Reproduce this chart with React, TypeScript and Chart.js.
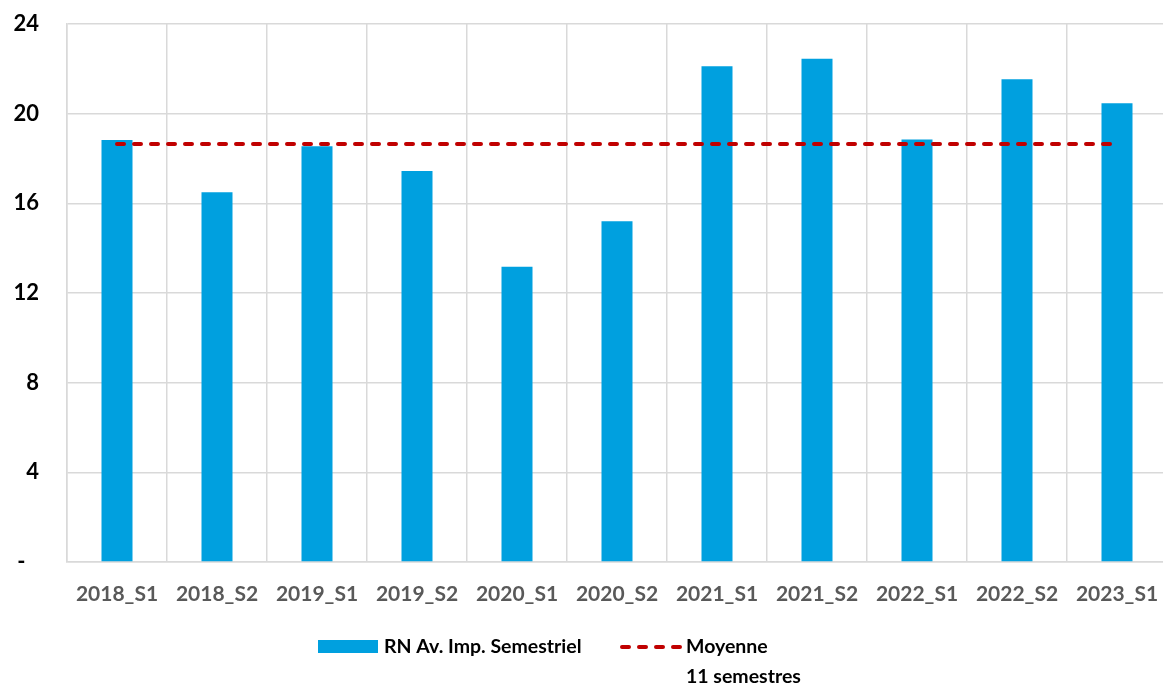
import React, { useEffect, useRef } from "react";
import { Chart, registerables } from "chart.js";

Chart.register(...registerables);

const categories = [
  "2018_S1", "2018_S2", "2019_S1", "2019_S2", "2020_S1", "2020_S2",
  "2021_S1", "2021_S2", "2022_S1", "2022_S2", "2023_S1",
];
const rnValues = [18.82, 16.5, 18.55, 17.44, 13.17, 15.2, 22.12, 22.45, 18.85, 21.54, 20.47];
const meanValues = [18.65, 18.65, 18.65, 18.65, 18.65, 18.65, 18.65, 18.65, 18.65, 18.65, 18.65];
const barLabel = "RN Av. Imp. Semestriel";
const meanLabel = ["Moyenne", "11 semestres"];
const yMin = 0;
const yMax = 24;
const yStep = 4;
const zeroTickLabel = "-  \u2009";

const FONT = "Lato, 'Open Sans', sans-serif";
const BAR_COLOR = "#00A0DF";
const RED = "#C00000";
const GRID = "#D9D9D9";

const legendPlugin = {
  id: "customLegend",
  afterDraw(chart: any) {
    const ctx = chart.ctx as CanvasRenderingContext2D;
    const ds0 = chart.data.datasets[0];
    const ds1 = chart.data.datasets[1];
    const y = 647;
    ctx.save();
    ctx.font = `bold 19.5px ${FONT}`;
    ctx.textBaseline = "middle";
    ctx.textAlign = "left";
    // bar sample
    ctx.fillStyle = ds0.backgroundColor;
    ctx.fillRect(318, 640, 60, 13);
    ctx.fillStyle = "#000";
    ctx.fillText(ds0.label, 384, y);
    // line sample
    ctx.strokeStyle = ds1.borderColor;
    ctx.lineWidth = 4;
    ctx.lineCap = "round";
    ctx.setLineDash([7, 10]);
    ctx.beginPath();
    ctx.moveTo(622, y);
    ctx.lineTo(680, y);
    ctx.stroke();
    ctx.setLineDash([]);
    ctx.fillStyle = "#000";
    const lines: string[] = Array.isArray(ds1.label) ? ds1.label : [ds1.label];
    lines.forEach((t, i) => ctx.fillText(t, 686, y + i * 30));
    ctx.restore();
  },
};

export default function App() {
  const ref = useRef<HTMLCanvasElement>(null);
  useEffect(() => {
    if (!ref.current) return;
    const chart = new Chart(ref.current, {
      type: "bar",
      data: {
        labels: categories,
        datasets: [
          {
            type: "bar",
            label: barLabel,
            data: rnValues,
            backgroundColor: BAR_COLOR,
            barPercentage: 0.31,
            categoryPercentage: 1,
            order: 1,
          },
          {
            type: "line",
            label: meanLabel as any,
            data: meanValues,
            borderColor: RED,
            borderWidth: 4,
            borderDash: [7, 10],
            borderCapStyle: "round",
            pointRadius: 0,
            fill: false,
            order: 0,
          } as any,
        ],
      },
      options: {
        responsive: false,
        animation: false,
        devicePixelRatio: 1,
        layout: { padding: { top: 24, right: 3, bottom: 0, left: 0 } },
        plugins: {
          legend: { display: false },
          tooltip: { enabled: false },
        },
        scales: {
          x: {
            grid: {
              color: GRID,
              lineWidth: 1.5,
              drawTicks: true,
              tickLength: 20,
              tickColor: "rgba(0,0,0,0)",
              offset: true,
            },
            border: { color: GRID, width: 1.5 },
            ticks: {
              color: "#595959",
              font: { family: FONT, size: 21, weight: "bold" },
              padding: 0,
              maxRotation: 0,
            },
            afterFit: (axis: any) => {
              axis.height = 124;
            },
          },
          y: {
            min: yMin,
            max: yMax,
            grid: {
              color: GRID,
              lineWidth: 1.5,
              drawTicks: true,
              tickLength: 28,
              tickColor: "rgba(0,0,0,0)",
            },
            border: { color: GRID, width: 1.5 },
            ticks: {
              stepSize: yStep,
              color: "#000",
              font: { family: FONT, size: 22, weight: "bold" },
              padding: 0,
              callback: (v: any) => (Number(v) === 0 ? zeroTickLabel : String(v)),
            },
            afterFit: (axis: any) => {
              axis.width = 67;
            },
          },
        },
      },
      plugins: [legendPlugin],
    });
    return () => chart.destroy();
  }, []);

  return (
    <div
      style={{
        position: "fixed",
        left: 0,
        top: 0,
        width: 1163,
        height: 686,
        overflow: "hidden",
        background: "#fff",
      }}
    >
      <canvas ref={ref} width={1170} height={686} style={{ width: 1170, height: 686, display: "block" }} />
    </div>
  );
}
